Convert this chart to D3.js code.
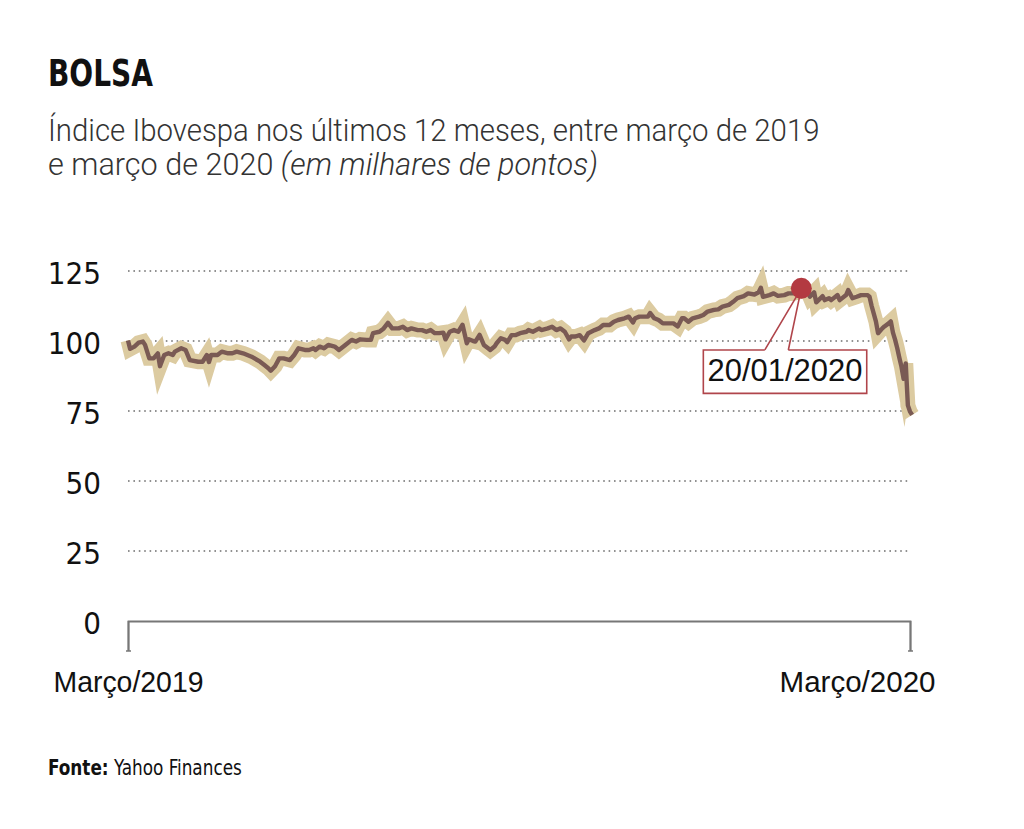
<!DOCTYPE html>
<html><head><meta charset="utf-8">
<script src="https://cdn.jsdelivr.net/npm/d3@7"></script>
<style>
html,body{margin:0;padding:0;background:#fff;}
svg{display:block;}
</style></head>
<body>
<svg id="chart" width="1024" height="829"></svg>
<script>
// ---- Dados (Ibovespa, milhares de pontos) ----
const datas = [
"2019-03-10","2019-03-11","2019-03-13","2019-03-15","2019-03-17","2019-03-18","2019-03-20","2019-03-22","2019-03-24","2019-03-25",
"2019-03-27","2019-03-29","2019-03-31","2019-04-01","2019-04-04","2019-04-06","2019-04-08","2019-04-12","2019-04-14","2019-04-16",
"2019-04-17","2019-04-18","2019-04-21","2019-04-23","2019-04-26","2019-04-28","2019-04-30","2019-05-03","2019-05-05","2019-05-07",
"2019-05-11","2019-05-13","2019-05-15","2019-05-16","2019-05-18","2019-05-20","2019-05-22","2019-05-25","2019-05-27","2019-05-29",
"2019-06-01","2019-06-03","2019-06-05","2019-06-06","2019-06-08","2019-06-10","2019-06-12","2019-06-15","2019-06-17","2019-06-20",
"2019-06-23","2019-06-25","2019-06-27","2019-06-30","2019-07-02","2019-07-03","2019-07-06","2019-07-08","2019-07-10","2019-07-12",
"2019-07-15","2019-07-17","2019-07-19","2019-07-21","2019-07-24","2019-07-26","2019-07-28","2019-07-30","2019-08-01","2019-08-03",
"2019-08-05","2019-08-06","2019-08-08","2019-08-10","2019-08-12","2019-08-14","2019-08-16","2019-08-17","2019-08-19","2019-08-20",
"2019-08-22","2019-08-23","2019-08-24","2019-08-26","2019-08-27","2019-08-29","2019-08-30","2019-09-01","2019-09-03","2019-09-04",
"2019-09-06","2019-09-08","2019-09-10","2019-09-13","2019-09-14","2019-09-16","2019-09-19","2019-09-20","2019-09-23","2019-09-25",
"2019-09-27","2019-09-29","2019-10-01","2019-10-03","2019-10-04","2019-10-06","2019-10-08","2019-10-10","2019-10-12","2019-10-15",
"2019-10-17","2019-10-19","2019-10-22","2019-10-24","2019-10-26","2019-10-29","2019-10-31","2019-11-02","2019-11-03","2019-11-05",
"2019-11-09","2019-11-10","2019-11-12","2019-11-14","2019-11-16","2019-11-19","2019-11-21","2019-11-23","2019-11-25","2019-11-26",
"2019-11-28","2019-11-30","2019-12-03","2019-12-05","2019-12-07","2019-12-10","2019-12-12","2019-12-14","2019-12-17","2019-12-19",
"2019-12-21","2019-12-24","2019-12-26","2019-12-29","2019-12-31","2020-01-01","2020-01-02","2020-01-05","2020-01-07","2020-01-09",
"2020-01-12","2020-01-14","2020-01-16","2020-01-19","2020-01-20","2020-01-23","2020-01-24","2020-01-26","2020-01-27","2020-01-30",
"2020-01-31","2020-02-02","2020-02-03","2020-02-06","2020-02-07","2020-02-10","2020-02-11","2020-02-13","2020-02-15","2020-02-17",
"2020-02-20","2020-02-21","2020-02-22","2020-02-24","2020-02-25","2020-02-27","2020-02-28","2020-03-01","2020-03-02","2020-03-03",
"2020-03-04","2020-03-05","2020-03-06","2020-03-07","2020-03-08","2020-03-09","2020-03-10","2020-03-11","2020-03-12"
];
const valores = [
100.2,97.2,98.0,99.4,99.8,98.6,93.8,93.8,95.6,91.0,
95.0,95.6,95.0,96.2,97.4,96.8,93.2,92.6,92.6,95.0,
92.5,95.0,95.0,96.2,95.6,95.6,96.2,95.6,95.0,94.4,
92.6,91.4,90.2,89.4,91.0,93.8,93.8,93.2,95.0,97.4,
96.8,96.8,97.4,96.8,98.0,97.4,98.6,98.0,96.8,98.6,
100.4,99.8,100.6,100.4,100.4,102.8,103.3,104.5,106.5,104.5,
104.5,105.1,103.9,104.5,103.9,103.9,103.3,103.9,102.8,102.8,
103.0,100.6,103.3,103.9,103.3,105.8,99.2,100.6,100.0,99.8,
102.2,100.4,98.6,97.4,96.8,98.0,99.2,101.0,100.4,99.6,
102.1,102.1,102.8,103.3,103.9,103.3,104.5,103.9,104.5,105.1,
103.9,104.5,103.3,100.6,101.6,101.6,102.1,100.2,102.8,103.9,
104.5,105.7,105.7,106.9,107.5,108.1,108.7,106.6,108.1,108.7,
108.7,110.0,108.1,107.5,106.3,106.3,106.3,105.2,108.1,108.1,
106.9,108.1,108.7,109.3,110.5,111.1,111.3,112.3,112.9,114.0,
115.3,116.0,117.0,116.6,117.4,119.0,115.8,116.4,117.0,116.1,
116.4,117.0,117.0,117.6,118.8,117.6,115.8,117.4,113.8,116.0,
114.6,115.3,114.6,116.4,114.6,116.4,118.2,115.3,115.8,116.4,
116.4,115.8,112.5,107.0,102.8,104.5,105.2,106.3,107.0,103.0,
100.5,97.5,94.0,90.8,86.5,92.0,77.0,74.8,73.6
];
const ticksY = [0, 25, 50, 75, 100, 125];
const inicioFim = ["2019-03-10", "2020-03-11"];
const rotulosX = ["Março/2019", "Março/2020"];
const destaqueData = "2020-01-20";
const destaqueTexto = "20/01/2020";

const titulo = "BOLSA";
const subtitulo1 = "Índice Ibovespa nos últimos 12 meses, entre março de 2019";
const subtitulo2a = "e março de 2020 ";
const subtitulo2b = "(em milhares de pontos)";
const fonteRotulo = "Fonte:";
const fonteTexto = " Yahoo Finances";

// ---- Montagem ----
const parse = d3.timeParse("%Y-%m-%d");
const serie = datas.map((d, i) => ({ date: parse(d), value: valores[i] }));

const svg = d3.select("#chart");
const x = d3.scaleTime().domain(inicioFim.map(parse)).range([128, 910]);
const y = d3.scaleLinear().domain([0, 125]).range([621, 271]);

function fit(sel, target) {
  const node = sel.node();
  const w = node.getComputedTextLength();
  const ax = +sel.attr("x");
  const k = target / w;
  sel.attr("transform", `translate(${ax},0) scale(${k},1) translate(${-ax},0)`);
}

// Título e subtítulo
const t = svg.append("text").attr("x", 48).attr("y", 86)
  .style("font-family", "'Liberation Sans Narrow','DejaVu Sans Condensed',sans-serif")
  .style("font-weight", "700").style("font-size", "38px").style("fill", "#111")
  .text(titulo);
fit(t, 105);

const s1 = svg.append("text").attr("x", 48).attr("y", 141)
  .style("font-family", "Roboto, sans-serif").style("font-weight", "300")
  .style("font-size", "31px").style("fill", "#333").text(subtitulo1);
fit(s1, 772);

const s2 = svg.append("text").attr("x", 48).attr("y", 175)
  .style("font-family", "Roboto, sans-serif").style("font-weight", "300")
  .style("font-size", "31px").style("fill", "#333");
s2.append("tspan").text(subtitulo2a);
s2.append("tspan").style("font-style", "italic").text(subtitulo2b);
fit(s2, 550);

// Grade pontilhada
svg.append("g").selectAll("line")
  .data(ticksY.filter(v => v > 0))
  .join("line")
  .attr("x1", x.range()[0]).attr("x2", x.range()[1])
  .attr("y1", d => y(d)).attr("y2", d => y(d))
  .attr("stroke", "#6e6e6e").attr("stroke-width", 1.6)
  .attr("stroke-dasharray", "1.6 3.8");

// Eixo Y (rótulos)
const yAxis = svg.append("g").attr("transform", "translate(101,0)")
  .call(d3.axisLeft(y).tickValues(ticksY).tickSize(0).tickPadding(0).tickFormat(d3.format("d")));
yAxis.select(".domain").remove();
yAxis.selectAll("text")
  .attr("dy", null).attr("y", 12)
  .style("font-family", "'Liberation Sans Narrow','DejaVu Sans Condensed',sans-serif")
  .style("font-size", "31px").style("fill", "#111");

// Eixo X
const xAxis = svg.append("g").attr("transform", "translate(0,621)")
  .call(d3.axisBottom(x).tickValues(inicioFim.map(parse)).tickSizeInner(30).tickSizeOuter(30)
    .tickFormat((d, i) => rotulosX[i]));
xAxis.select(".domain").attr("stroke", "#777").attr("stroke-width", 1.8);
xAxis.selectAll(".tick line").attr("stroke", "#777").attr("stroke-width", 1.8);
xAxis.selectAll(".tick").append("line")
  .attr("x1", -2.5).attr("x2", 2.5).attr("y1", 30).attr("y2", 30)
  .attr("stroke", "#777").attr("stroke-width", 1.5);
xAxis.selectAll(".tick text")
  .attr("y", 71).attr("dy", null)
  .style("font-family", "'Liberation Sans',Arial,sans-serif")
  .style("font-size", "30px").style("fill", "#111");
xAxis.selectAll(".tick text").each(function (d, i) {
  const el = d3.select(this);
  if (i === 1) { el.attr("text-anchor", "end").attr("x", 25); }
  else { el.attr("text-anchor", "middle").attr("x", 0); }
  fit(el, i === 0 ? 150 : 156);
});

// Linhas
const line = d3.line().x(d => x(d.date)).y(d => y(d.value));
svg.append("path").datum(serie)
  .attr("d", line).attr("fill", "none")
  .attr("stroke", "#dccba1").attr("stroke-width", 15)
  .attr("stroke-linejoin", "miter").attr("stroke-miterlimit", 9)
  .attr("stroke-linecap", "butt");
svg.append("path").datum(serie)
  .attr("d", line).attr("fill", "none")
  .attr("stroke", "#7a5a54").attr("stroke-width", 4.4)
  .attr("stroke-linejoin", "round").attr("stroke-linecap", "butt");

// Destaque
const pd = serie.find(d => +d.date === +parse(destaqueData));
const cx = x(pd.date), cy = y(pd.value);
const bx0 = cx - 98, bx1 = cx + 65.4, by0 = cy + 61.6, by1 = cy + 105;
const p0 = cx - 36.5, p1 = cx - 13;
const red = "#b0454b";
svg.append("path")
  .attr("d", `M${p0},${by0} L${bx0},${by0} L${bx0},${by1} L${bx1},${by1} L${bx1},${by0} L${p1},${by0}`)
  .attr("fill", "#fff").attr("stroke", red).attr("stroke-width", 1.6);
svg.append("path")
  .attr("d", `M${p0},${by0} L${cx},${cy} L${p1},${by0}`)
  .attr("fill", "none").attr("stroke", red).attr("stroke-width", 1.6);
const at = svg.append("text").attr("x", (bx0 + bx1) / 2).attr("y", by0 + 31.5)
  .attr("text-anchor", "middle")
  .style("font-family", "'Liberation Sans',Arial,sans-serif")
  .style("font-size", "31px").style("fill", "#111").text(destaqueTexto);
fit(at, 155);
svg.append("circle").attr("cx", cx).attr("cy", cy).attr("r", 10.5).attr("fill", "#b33a41");

// Fonte
const f = svg.append("text").attr("x", 48).attr("y", 775)
  .style("font-family", "'Liberation Sans Narrow','DejaVu Sans Condensed',sans-serif")
  .style("font-size", "21.5px").style("fill", "#111");
f.append("tspan").style("font-weight", "700").text(fonteRotulo);
f.append("tspan").text(fonteTexto);
fit(f, 194);
</script>
</body></html>
